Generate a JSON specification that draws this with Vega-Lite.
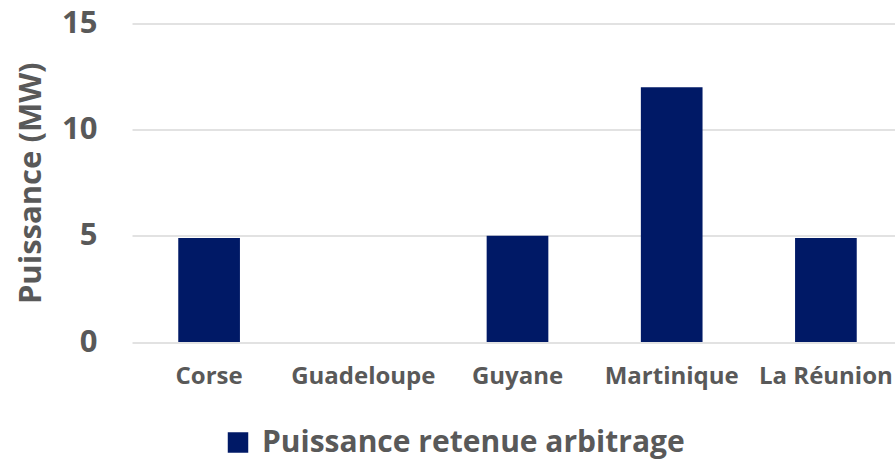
{
  "$schema": "https://vega.github.io/schema/vega-lite/v6.json",
  "width": 771,
  "height": 318.5,
  "autosize": {"type": "none"},
  "padding": {"left": 132, "top": 23.5, "right": 0, "bottom": 119},
  "background": "white",
  "data": {"values": [
    {"region": "Corse", "puissance": 4.9, "serie": "Puissance retenue arbitrage"},
    {"region": "Guadeloupe", "puissance": 0, "serie": "Puissance retenue arbitrage"},
    {"region": "Guyane", "puissance": 5.0, "serie": "Puissance retenue arbitrage"},
    {"region": "Martinique", "puissance": 12.0, "serie": "Puissance retenue arbitrage"},
    {"region": "La Réunion", "puissance": 4.9, "serie": "Puissance retenue arbitrage"}
  ]},
  "config": {
    "view": {"stroke": null},
    "font": "Open Sans"
  },
  "mark": {"type": "bar"},
  "encoding": {
    "x": {
      "field": "region", "type": "nominal", "sort": null,
      "scale": {"paddingInner": 0.6, "paddingOuter": 0.3},
      "axis": {
        "title": null, "labelAngle": 0, "domain": false, "ticks": false,
        "labelFont": "Open Sans", "labelFontWeight": "bold", "labelFontSize": 24,
        "labelColor": "#595959", "labelPadding": 22, "labelBaseline": "top"
      }
    },
    "y": {
      "field": "puissance", "type": "quantitative",
      "scale": {"domain": [0, 15]},
      "axis": {
        "title": "Puissance (MW)", "values": [0, 5, 10, 15],
        "domain": false, "ticks": false,
        "labelFont": "Open Sans", "labelFontWeight": "bold", "labelFontSize": 31,
        "labelColor": "#595959", "labelPadding": 35,
        "titleFont": "Open Sans", "titleFontWeight": "bold", "titleFontSize": 31,
        "titleColor": "#595959", "titlePadding": 14,
        "gridColor": "#d9d9d9", "gridWidth": 1.5
      }
    },
    "color": {
      "field": "serie", "type": "nominal",
      "scale": {"range": ["#001966"]},
      "legend": {
        "title": null, "orient": "none", "legendX": 91, "legendY": 404,
        "symbolType": "square", "symbolSize": 420, "symbolStrokeWidth": 0,
        "labelFont": "Open Sans", "labelFontWeight": "bold", "labelFontSize": 30,
        "labelColor": "#595959", "labelOffset": 9, "labelLimit": 700
      }
    }
  }
}
